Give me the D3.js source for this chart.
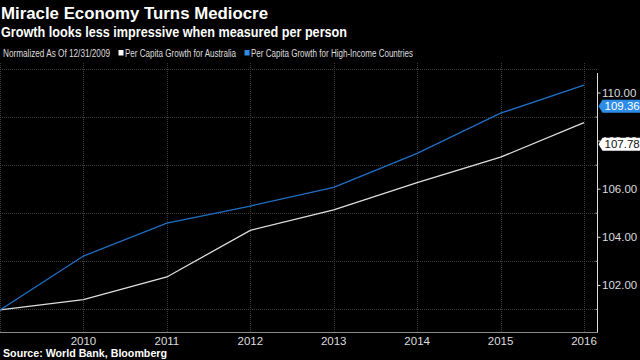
<!DOCTYPE html>
<html>
<head>
<meta charset="utf-8">
<script src="https://cdn.jsdelivr.net/npm/d3@7"></script>
<style>
  body { margin: 0; background: #000; }
  svg { display: block; font-family: "Liberation Sans", Arial, sans-serif; }
</style>
</head>
<body>
<div id="chart"></div>
<script>
// data
const years = [2009, 2010, 2011, 2012, 2013, 2014, 2015, 2016];
const highIncome = [100.98, 103.22, 104.59, 105.30, 106.08, 107.49, 109.16, 110.33];
const australia = [100.98, 101.41, 102.35, 104.29, 105.14, 106.27, 107.33, 108.77];
const lastLabels = ["109.36", "107.78"];
const lastValues = [109.36, 107.78];
const yTicks = [102, 104, 106, 108, 110];
const yMinor = [101, 103, 105, 107, 109, 111];

const width = 640;
const height = 360;

const svg = d3.select("#chart")
    .append("svg")
    .attr("width", width)
    .attr("height", height);

svg.append("rect").attr("width", width).attr("height", height).attr("fill", "#000");

const plotLeft = 0, plotRight = 597.5, plotTop = 63, plotBottom = 332.5;

const x = d3.scaleLinear()
    .domain([2009, 2016])
    .range([0, 584]);

const y = d3.scaleLinear()
    .domain([100, 111])
    .range([333.5, 333.5 - 11 * 24.05]);

// titles
svg.append("text")
    .attr("x", 1).attr("y", 18.5)
    .attr("fill", "#fff")
    .style("font-size", "17px").style("font-weight", "bold")
    .attr("textLength", 267).attr("lengthAdjust", "spacingAndGlyphs")
    .text("Miracle Economy Turns Mediocre");

svg.append("text")
    .attr("x", 1).attr("y", 37)
    .attr("fill", "#fff")
    .style("font-size", "14px").style("font-weight", "bold")
    .attr("textLength", 346).attr("lengthAdjust", "spacingAndGlyphs")
    .text("Growth looks less impressive when measured per person");

// legend
const legend = svg.append("g").style("font-size", "10px").attr("fill", "#ddd");
legend.append("text").attr("x", 3).attr("y", 57)
    .attr("textLength", 107).attr("lengthAdjust", "spacingAndGlyphs")
    .text("Normalized As Of 12/31/2009");
legend.append("rect").attr("x", 118.5).attr("y", 50).attr("width", 5).attr("height", 5.5).attr("fill", "#fff");
legend.append("text").attr("x", 125).attr("y", 57)
    .attr("textLength", 111).attr("lengthAdjust", "spacingAndGlyphs")
    .text("Per Capita Growth for Australia");
legend.append("rect").attr("x", 244.5).attr("y", 50).attr("width", 5).attr("height", 5.5).attr("fill", "#2d8ce8");
legend.append("text").attr("x", 251).attr("y", 57)
    .attr("textLength", 162).attr("lengthAdjust", "spacingAndGlyphs")
    .text("Per Capita Growth for High-Income Countries");

// grid
const grid = svg.append("g")
    .attr("stroke", "#3a3a3a")
    .attr("stroke-width", 1)
    .attr("stroke-dasharray", "1,1");

grid.selectAll(".hgrid")
    .data(yMinor)
    .enter()
    .append("line")
    .attr("x1", plotLeft).attr("x2", plotRight)
    .attr("y1", d => Math.round(y(d)) + 0.5)
    .attr("y2", d => Math.round(y(d)) + 0.5);

grid.selectAll(".vgrid")
    .data(years)
    .enter()
    .append("line")
    .attr("x1", d => Math.round(x(d)) + 0.5)
    .attr("x2", d => Math.round(x(d)) + 0.5)
    .attr("y1", plotTop).attr("y2", plotBottom);

// x axis
svg.append("line")
    .attr("x1", 0).attr("x2", plotRight)
    .attr("y1", plotBottom).attr("y2", plotBottom)
    .attr("stroke", "#8a8a8a").attr("stroke-width", 1.2);

svg.selectAll(".xlab")
    .data(years.slice(1))
    .enter()
    .append("text")
    .attr("x", d => x(d))
    .attr("y", 345)
    .attr("text-anchor", "middle")
    .attr("fill", "#ddd")
    .style("font-size", "11.5px")
    .text(d => d);

// right y axis
svg.append("line")
    .attr("x1", plotRight).attr("x2", plotRight)
    .attr("y1", plotTop + 10).attr("y2", plotBottom)
    .attr("stroke", "#ddd").attr("stroke-width", 1);

svg.selectAll(".ytick")
    .data(yTicks)
    .enter()
    .append("line")
    .attr("x1", plotRight).attr("x2", plotRight + 3)
    .attr("y1", d => y(d)).attr("y2", d => y(d))
    .attr("stroke", "#ddd");

svg.selectAll(".yminor")
    .data(yMinor.slice(0, 5))
    .enter()
    .append("line")
    .attr("x1", plotRight - 2).attr("x2", plotRight)
    .attr("y1", d => y(d)).attr("y2", d => y(d))
    .attr("stroke", "#aaa");

svg.selectAll(".ylab")
    .data(yTicks)
    .enter()
    .append("text")
    .attr("x", 602)
    .attr("y", d => y(d) + 3.8)
    .attr("fill", "#ddd")
    .style("font-size", "11.5px")
    .text(d => d.toFixed(2));

// lines
const line = d3.line()
    .x((d, i) => x(years[i]))
    .y(d => y(d));

svg.append("path")
    .datum(australia)
    .attr("d", line)
    .attr("fill", "none")
    .attr("stroke", "#dedede")
    .attr("stroke-width", 1.3);

svg.append("path")
    .datum(highIncome)
    .attr("d", line)
    .attr("fill", "none")
    .attr("stroke", "#1f6fc6")
    .attr("stroke-width", 1.3);

// last value labels (they sit over the axis labels, as in the original)
const labelColors = [["#2d8ce8", "#fff"], ["#fff", "#111"]];
lastValues.forEach(function (v, i) {
    const cy = y(v) - 2.2;
    const x0 = 598.5;
    svg.append("path")
        .attr("d", `M${x0},${cy} L${x0 + 4},${cy - 6.5} L${width},${cy - 6.5} L${width},${cy + 6.5} L${x0 + 4},${cy + 6.5} Z`)
        .attr("fill", labelColors[i][0]);
    svg.append("text")
        .attr("x", 604.5)
        .attr("y", cy + 4.2)
        .attr("fill", labelColors[i][1])
        .style("font-size", "11.5px")
        .text(lastLabels[i]);
});

// source
svg.append("text")
    .attr("x", 3).attr("y", 357)
    .attr("fill", "#fff")
    .style("font-size", "10.5px").style("font-weight", "bold")
    .attr("textLength", 164).attr("lengthAdjust", "spacingAndGlyphs")
    .text("Source: World Bank, Bloomberg");
</script>
</body>
</html>
